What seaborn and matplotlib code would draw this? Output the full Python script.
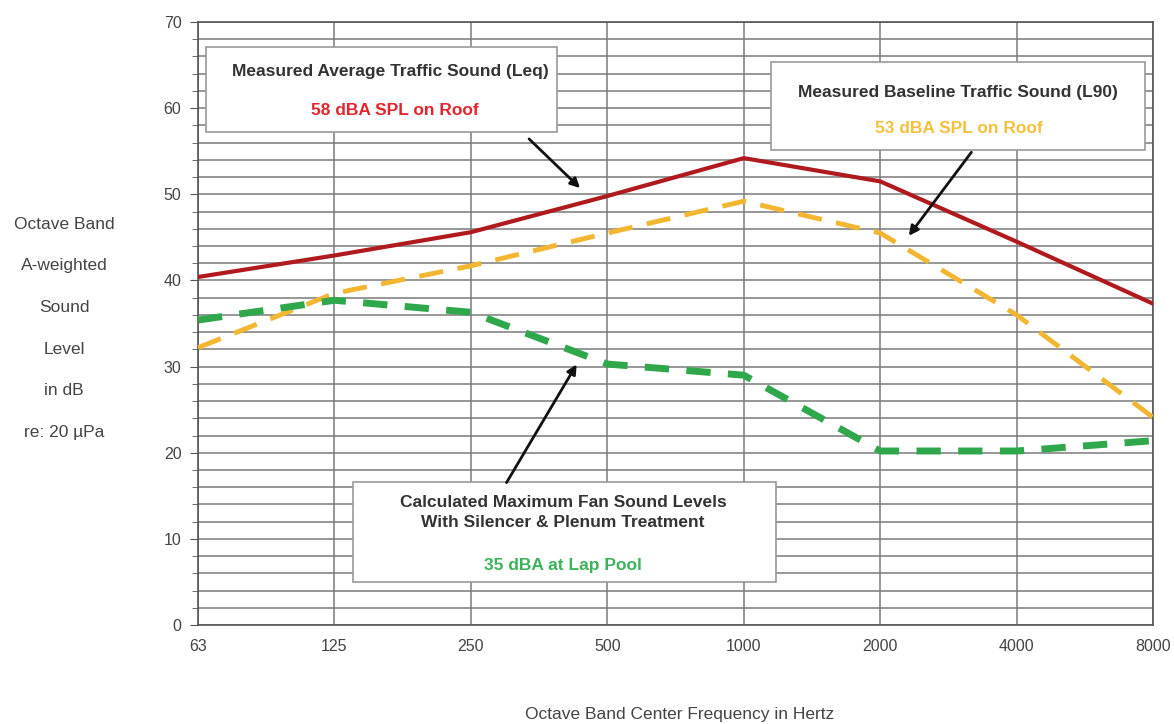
import pandas as pd
import matplotlib.pyplot as plt
import seaborn as sns
from matplotlib.patches import Rectangle

# Octave band data
bands = ["63", "125", "250", "500", "1000", "2000", "4000", "8000"]
leq = [40.4, 42.9, 45.6, 49.8, 54.2, 51.5, 44.5, 37.3]
l90 = [32.2, 38.5, 41.7, 45.5, 49.2, 45.5, 36.0, 24.1]
fan = [35.4, 37.7, 36.3, 30.3, 29.0, 20.2, 20.2, 21.4]

pos = list(range(len(bands)))
df = pd.DataFrame({"pos": pos * 3,
                   "level": leq + l90 + fan,
                   "series": ["Leq"] * 8 + ["L90"] * 8 + ["Fan"] * 8})

sns.set_style("white")
plt.rcParams["font.family"] = ["Liberation Sans", "DejaVu Sans"]

fig = plt.figure(figsize=(11.74, 7.24), dpi=100)
ax = fig.add_axes([0.1687, 0.1367, 0.8135, 0.8329])

# grid
for y in range(0, 71, 2):
    ax.axhline(y, color="#7a7a7a", lw=1.1, zorder=0)
for x in pos:
    ax.axvline(x, color="#7a7a7a", lw=1.1, zorder=0)

red = "#b01a1e"
yellow = "#f2b630"
green = "#2ea84a"

sns.lineplot(data=df[df.series == "Leq"], x="pos", y="level", color=red, lw=3, ax=ax, zorder=3)
sns.lineplot(data=df[df.series == "L90"], x="pos", y="level", color=yellow, lw=3.5, ax=ax,
             zorder=3, linestyle=(0, (5, 3)))
sns.lineplot(data=df[df.series == "Fan"], x="pos", y="level", color=green, lw=5, ax=ax,
             zorder=3, linestyle=(0, (3.5, 2.5)))

ax.set_xlim(0, 7)
ax.set_ylim(0, 70)
ax.set_xticks(pos)
ax.set_xticklabels(bands)
ax.set_yticks(range(0, 71, 10))
ax.set_yticks(range(0, 71, 2), minor=True)
ax.tick_params(axis="y", which="major", length=6, color="#555555", labelsize=11.5, labelcolor="#444444", pad=6, left=True)
ax.tick_params(axis="y", which="minor", length=4, color="#555555", left=True)
ax.tick_params(axis="x", length=0, labelsize=11.5, labelcolor="#444444", pad=10)
ax.set_xlabel("")
ax.set_ylabel("")
for s in ax.spines.values():
    s.set_color("#555555")
    s.set_linewidth(1.2)

# annotation boxes
boxes = [(0.0084, 0.8176, 0.3676, 0.1409),
         (0.600, 0.7877, 0.3916, 0.1460),
         (0.1623, 0.0713, 0.4429, 0.1658)]
for bx, by, bw, bh in boxes:
    ax.add_patch(Rectangle((bx, by), bw, bh, transform=ax.transAxes, facecolor="white",
                           edgecolor="#999999", lw=1.2, zorder=5))

tk = dict(transform=ax.transAxes, ha="center", va="center", fontsize=12.5, fontweight="bold", zorder=6)
ax.text(0.2010, 0.9187, "Measured Average Traffic Sound (Leq)", color="#333333", **tk)
ax.text(0.2063, 0.854, "58 dBA SPL on Roof", color="#e3262d", **tk)
ax.text(0.7958, 0.8839, "Measured Baseline Traffic Sound (L90)", color="#333333", **tk)
ax.text(0.7968, 0.824, "53 dBA SPL on Roof", color="#f5c03c", **tk)
ax.text(0.3822, 0.204, "Calculated Maximum Fan Sound Levels", color="#333333", **tk)
ax.text(0.3822, 0.1708, "With Silencer & Plenum Treatment", color="#333333", **tk)
ax.text(0.3822, 0.0995, "35 dBA at Lap Pool", color="#3cb25a", **tk)

arrows = [((0.3445, 0.8093), (0.4021, 0.7214)),
          ((0.8115, 0.7877), (0.7424, 0.6418)),
          ((0.3215, 0.2322), (0.3979, 0.4362))]
for start, end in arrows:
    ax.annotate("", xy=end, xytext=start, xycoords="axes fraction", textcoords="axes fraction",
                arrowprops=dict(arrowstyle="-|>", color="#111111", lw=2, mutation_scale=14), zorder=7)

# y label as stacked lines
ylines = ["Octave Band", "A-weighted", "Sound", "Level", "in dB", "re: 20 µPa"]
ys = [0.6906, 0.6326, 0.5746, 0.5166, 0.46, 0.402]
for t, y in zip(ylines, ys):
    fig.text(0.0545, y, t, ha="center", va="center", fontsize=12.5, color="#444444")

fig.text(0.579, 0.0138, "Octave Band Center Frequency in Hertz", ha="center", va="center",
         fontsize=12.5, color="#444444")

fig.savefig("out.png", dpi=100, facecolor="white")
